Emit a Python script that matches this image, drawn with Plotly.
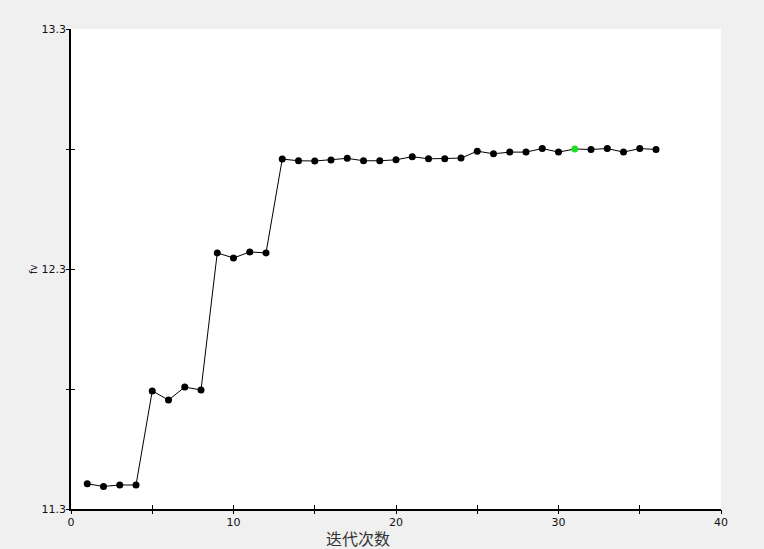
import plotly.graph_objects as go

iterations = list(range(1, 37))
fv = [11.405, 11.394, 11.400, 11.400, 11.792, 11.754, 11.808, 11.796,
      12.367, 12.346, 12.371, 12.367, 12.758, 12.751, 12.750, 12.754,
      12.761, 12.751, 12.751, 12.755, 12.768, 12.759, 12.759, 12.762,
      12.791, 12.780, 12.787, 12.787, 12.802, 12.787, 12.800, 12.798,
      12.802, 12.787, 12.802, 12.798]
best_index = 31

x_tick_vals = [0, 5, 10, 15, 20, 25, 30, 35, 40]
x_tick_text = ["0", "", "10", "", "20", "", "30", "", "40"]
y_tick_vals = [11.3, 11.8, 12.3, 12.8, 13.3]
y_tick_text = ["11.3", "", "12.3", "", "13.3"]

colors = ["#22dd22" if i == best_index else "black" for i in iterations]

font = "DejaVu Sans, Liberation Sans, sans-serif"

fig = go.Figure()
fig.add_trace(go.Scatter(
    x=iterations, y=fv, mode="lines+markers",
    line=dict(color="black", width=1),
    marker=dict(color=colors, size=7),
    showlegend=False, hoverinfo="x+y",
))

main_axis = dict(showgrid=False, zeroline=False, showline=True,
                 linecolor="black", linewidth=1.5, ticks="inside",
                 tickcolor="black", ticklen=4, tickwidth=1,
                 automargin=False, tickmode="array",
                 tickfont=dict(family=font, size=11, color="#111"))
sec_axis = dict(ticks="outside", ticklen=4, tickwidth=1, tickcolor="black",
                showticklabels=False, showgrid=False, zeroline=False,
                showline=False, tickmode="array")

fig.update_layout(
    width=764, height=549,
    paper_bgcolor="#f0f0f0", plot_bgcolor="white",
    margin=dict(l=71, r=43, t=29, b=40),
    font=dict(family=font, color="#222"),
    xaxis=dict(range=[0, 40], tickvals=x_tick_vals, ticktext=x_tick_text,
               ticklabelstandoff=2, **main_axis),
    yaxis=dict(range=[11.3, 13.3], tickvals=y_tick_vals, ticktext=y_tick_text,
               ticklabelstandoff=1, **main_axis),
    xaxis2=dict(range=[0, 40], overlaying="x", side="bottom", anchor="y",
                tickvals=x_tick_vals, **sec_axis),
    yaxis2=dict(range=[11.3, 13.3], overlaying="y", side="left", anchor="x",
                tickvals=y_tick_vals, **sec_axis),
    annotations=[
        dict(text="迭代次数", xref="paper", yref="paper", x=0.4415, y=-0.0604,
             xanchor="center", yanchor="middle", showarrow=False,
             font=dict(family="Noto Sans CJK SC", size=16, color="#333")),
        dict(text="fv", xref="paper", yref="paper", x=-0.0585, y=0.5,
             xanchor="center", yanchor="middle", showarrow=False, textangle=-90,
             font=dict(family=font, size=10, color="#222")),
    ],
)
# invisible trace to activate the secondary axes (outside tick halves)
fig.add_trace(go.Scatter(x=[None], y=[None], xaxis="x2", yaxis="y2",
                         showlegend=False, hoverinfo="skip"))

fig.write_html("out.html", config={"displayModeBar": False},
               post_script="document.body.style.margin='0px';document.body.style.background='#f0f0f0';")
